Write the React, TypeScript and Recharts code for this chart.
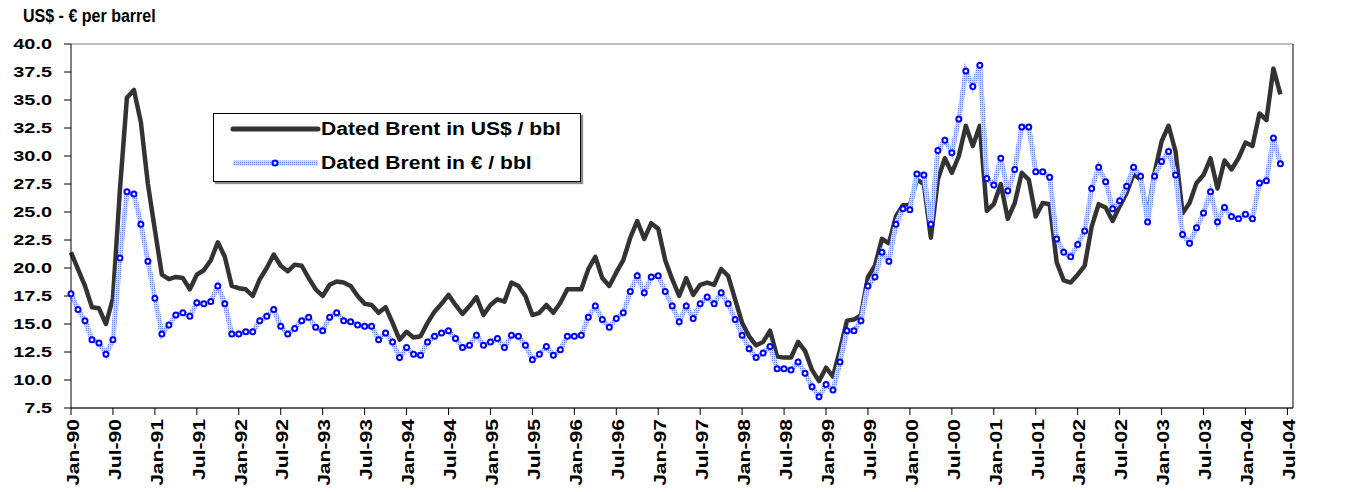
import React from "react";
import {
  LineChart,
  Line,
  XAxis,
  YAxis,
  CartesianGrid,
} from "recharts";

// monthly Dated Brent, Jan-90 .. Jun-04
const usdPerBbl = [
  21.4, 19.9, 18.4, 16.5, 16.4, 15.0, 17.3, 27.0, 35.2, 35.9, 33.0, 27.5,
  23.4, 19.4, 19.0, 19.2, 19.1, 18.1, 19.4, 19.8, 20.7, 22.3, 21.0, 18.4,
  18.2, 18.1, 17.5, 19.0, 20.0, 21.2, 20.2, 19.7, 20.3, 20.2, 19.1, 18.1,
  17.5, 18.5, 18.8, 18.7, 18.4, 17.5, 16.8, 16.7, 16.0, 16.5, 15.1, 13.6,
  14.3, 13.8, 13.9, 15.1, 16.1, 16.8, 17.6, 16.7, 15.9, 16.6, 17.4, 15.8,
  16.7, 17.2, 17.0, 18.7, 18.4, 17.5, 15.8, 16.0, 16.7, 16.0, 16.9, 18.1,
  18.1, 18.1, 19.9, 21.0, 19.1, 18.4, 19.6, 20.7, 22.7, 24.2, 22.6, 24.0,
  23.5, 20.7, 19.0, 17.5, 19.1, 17.6, 18.5, 18.7, 18.5, 19.9, 19.3, 17.2,
  15.1, 13.9, 13.1, 13.4, 14.4, 12.1, 12.0, 12.0, 13.4, 12.6, 10.9, 9.9,
  11.1, 10.3, 12.7, 15.3, 15.4, 15.8, 19.2, 20.2, 22.6, 22.2, 24.6, 25.6,
  25.6, 27.9, 27.5, 22.7, 27.9, 29.8, 28.5, 30.0, 32.7, 30.9, 32.7, 25.1,
  25.7, 27.5, 24.4, 25.8, 28.5, 27.9, 24.6, 25.8, 25.7, 20.5, 18.9, 18.7,
  19.4, 20.2, 23.7, 25.7, 25.4, 24.2, 25.5, 26.7, 28.4, 27.9, 24.6, 28.5,
  31.3, 32.7, 30.4, 24.9, 25.8, 27.6, 28.3, 29.8, 27.1, 29.6, 28.8, 29.8,
  31.2, 30.9, 33.8, 33.2, 37.8, 35.5,
];

const eurPerBbl = [
  17.7, 16.3, 15.3, 13.6, 13.3, 12.3, 13.6, 20.9, 26.8, 26.6, 23.9, 20.6,
  17.3, 14.1, 14.9, 15.8, 16.0, 15.7, 16.9, 16.8, 17.0, 18.4, 16.8, 14.1,
  14.1, 14.3, 14.3, 15.3, 15.7, 16.3, 14.8, 14.1, 14.6, 15.3, 15.6, 14.7,
  14.4, 15.6, 16.0, 15.3, 15.2, 14.9, 14.8, 14.8, 13.6, 14.2, 13.4, 12.0,
  12.9, 12.3, 12.2, 13.4, 13.9, 14.2, 14.4, 13.7, 12.9, 13.1, 14.0, 13.1,
  13.4, 13.7, 12.9, 14.0, 13.9, 13.1, 11.8, 12.3, 13.0, 12.2, 12.7, 13.9,
  13.9, 14.0, 15.6, 16.6, 15.4, 14.7, 15.5, 16.0, 17.9, 19.3, 17.8, 19.2,
  19.3, 17.9, 16.6, 15.2, 16.6, 15.5, 16.8, 17.4, 16.8, 17.8, 16.8, 15.4,
  14.0, 12.8, 12.0, 12.4, 13.0, 11.0, 11.0, 10.9, 11.6, 10.6, 9.4, 8.5,
  9.6, 9.1, 11.6, 14.4, 14.4, 15.3, 18.4, 19.2, 21.4, 20.6, 23.9, 25.3,
  25.2, 28.4, 28.3, 23.9, 30.5, 31.4, 30.3, 33.3, 37.6, 36.2, 38.1, 28.0,
  27.4, 29.8, 26.9, 28.8, 32.6, 32.6, 28.6, 28.6, 28.1, 22.6, 21.4, 21.0,
  22.1, 23.3, 27.1, 29.0, 27.7, 25.3, 26.0, 27.3, 29.0, 28.2, 24.1, 28.2,
  29.5, 30.4, 28.3, 23.0, 22.2, 23.6, 24.9, 26.8, 24.1, 25.4, 24.6, 24.4,
  24.8, 24.4, 27.6, 27.8, 31.6, 29.3,
];

const xTickLabels = [
  "Jan-90", "Jul-90", "Jan-91", "Jul-91", "Jan-92", "Jul-92", "Jan-93", "Jul-93",
  "Jan-94", "Jul-94", "Jan-95", "Jul-95", "Jan-96", "Jul-96", "Jan-97", "Jul-97",
  "Jan-98", "Jul-98", "Jan-99", "Jul-99", "Jan-00", "Jul-00", "Jan-01", "Jul-01",
  "Jan-02", "Jul-02", "Jan-03", "Jul-03", "Jan-04", "Jul-04",
];

const yTicks = [7.5, 10, 12.5, 15, 17.5, 20, 22.5, 25, 27.5, 30, 32.5, 35, 37.5, 40];

const seriesNames = ["Dated Brent in US$ / bbl", "Dated Brent in € / bbl"];

const data = usdPerBbl.map((usd, i) => ({ m: i, usd, eur: eurPerBbl[i] }));
const xTicks = xTickLabels.map((_, k) => k * 6);

const FONT = "'Liberation Sans', Arial, sans-serif";

function YTick({ x, y, payload, textAnchor }: any) {
  return (
    <g transform={`translate(${x},${y}) scale(1.42,1)`}>
      <text
        textAnchor={textAnchor}
        dy="0.36em"
        fontSize={14}
        fontWeight="bold"
        fontFamily={FONT}
        fill="#000"
      >
        {Number(payload.value).toFixed(1)}
      </text>
    </g>
  );
}

function XTick({ x, y, payload }: any) {
  const label = xTickLabels[Math.round(payload.value / 6)] ?? "";
  return (
    <g transform={`translate(${x + 2},${y})`}>
      <text
        transform="rotate(-90) scale(1.32,1)"
        textAnchor="end"
        dy="0.36em"
        fontSize={16}
        fontWeight="bold"
        fontFamily={FONT}
        fill="#000"
      >
        {label}
      </text>
    </g>
  );
}

function LegendBox() {
  const row: React.CSSProperties = {
    position: "absolute",
    left: 107,
    fontSize: 18,
    fontWeight: "bold",
    fontFamily: FONT,
    lineHeight: "20px",
    transform: "scaleX(1.17)",
    transformOrigin: "left center",
    whiteSpace: "nowrap",
    color: "#000",
  };
  return (
    <div
      style={{
        position: "absolute",
        left: 213,
        top: 113,
        width: 368,
        height: 69,
        background: "#fff",
        border: "1px solid #000",
        boxShadow: "2px 2px 1px #8c8c8c",
        boxSizing: "border-box",
      }}
    >
      <svg width={368} height={69} style={{ position: "absolute", left: 0, top: 0 }}>
        <defs>
          <pattern id="legDots" width="2" height="2" patternUnits="userSpaceOnUse">
            <rect width="2" height="2" fill="#c6d6ff" />
            <rect width="1" height="1" fill="#6a8cff" />
          </pattern>
        </defs>
        <line x1={19} y1={15} x2={104} y2={15} stroke="#333" strokeWidth={5} strokeLinecap="round" />
        <line x1={19} y1={49} x2={104} y2={49} stroke="url(#legDots)" strokeWidth={5} />
        <circle cx={61} cy={49} r={2.5} fill="#fff" stroke="#0000ff" strokeWidth={2} />
      </svg>
      <div style={{ ...row, top: 5 }}>{seriesNames[0]}</div>
      <div style={{ ...row, top: 39 }}>{seriesNames[1]}</div>
    </div>
  );
}

export default function App() {
  return (
    <div style={{ position: "absolute", left: 0, top: 0, width: 1356, height: 492, background: "#fff" }}>
      <div
        style={{
          position: "absolute",
          left: 23,
          top: 7,
          fontSize: 18,
          lineHeight: "18px",
          fontWeight: "bold",
          fontFamily: FONT,
          color: "#000",
          whiteSpace: "nowrap",
          transform: "scaleX(0.89)",
          transformOrigin: "left center",
        }}
      >
        US$ - € per barrel
      </div>
      <LineChart
        width={1356}
        height={492}
        data={data}
        margin={{ top: 44, right: 0, bottom: 0, left: 0 }}
      >
        <defs>
          <pattern id="eurDots" width="2" height="2" patternUnits="userSpaceOnUse">
            <rect width="2" height="2" fill="#c6d6ff" />
            <rect width="1" height="1" fill="#6a8cff" />
          </pattern>
        </defs>
        <CartesianGrid vertical={false} stroke="#808080" strokeWidth={1} />
        <XAxis
          dataKey="m"
          type="number"
          domain={[0, 174.8]}
          ticks={xTicks}
          interval={0}
          height={84}
          tickSize={7}
          tickMargin={4}
          stroke="#000"
          tick={<XTick />}
        />
        <YAxis
          yAxisId="l"
          domain={[7.5, 40]}
          ticks={yTicks}
          interval={0}
          width={71}
          tickSize={7}
          tickMargin={12}
          stroke="#000"
          tick={<YTick />}
        />
        <YAxis
          yAxisId="r"
          orientation="right"
          domain={[7.5, 40]}
          ticks={yTicks}
          interval={0}
          width={63}
          tickSize={7}
          tickMargin={12}
          stroke="#000"
          tick={<YTick />}
        />
        <Line
          yAxisId="l"
          type="linear"
          dataKey="usd"
          name={seriesNames[0]}
          stroke="#333333"
          strokeWidth={4.5}
          strokeLinejoin="round"
          dot={false}
          isAnimationActive={false}
        />
        <Line
          yAxisId="l"
          type="linear"
          dataKey="eur"
          name={seriesNames[1]}
          stroke="url(#eurDots)"
          strokeWidth={5}
          dot={{ r: 2.5, fill: "#fff", stroke: "#0000ff", strokeWidth: 2 }}
          isAnimationActive={false}
        />
      </LineChart>
      <LegendBox />
    </div>
  );
}
